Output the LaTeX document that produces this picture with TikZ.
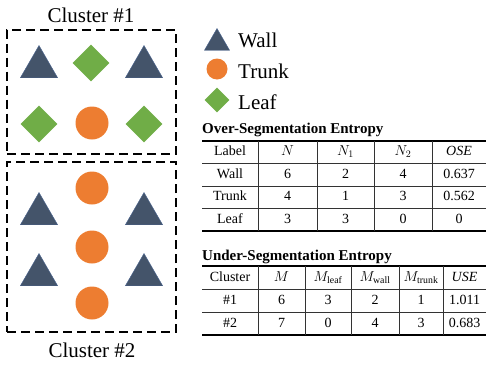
\documentclass[tikz,border=0pt]{standalone}
\usepackage{fontspec}
\setmainfont{Liberation Serif}
\usetikzlibrary{shapes.geometric}
\definecolor{wallblue}{HTML}{44546A}
\definecolor{walledge}{HTML}{4A6490}
\definecolor{trunkorange}{HTML}{ED7D31}
\definecolor{leafgreen}{HTML}{70AD47}
\begin{document}
\begin{tikzpicture}[x=1pt, y=-1pt,
    wall/.style={regular polygon, regular polygon sides=3, fill=wallblue, draw=walledge, line width=0.4pt, minimum size=43pt, inner sep=0pt},
    trunk/.style={circle, fill=trunkorange, minimum size=33pt, inner sep=0pt},
    leaf/.style={diamond, fill=leafgreen, minimum size=37pt, inner sep=0pt},
    clusterbox/.style={draw, line width=2pt, dash pattern=on 9pt off 5pt},
    clustername/.style={font=\fontsize{21}{24}\selectfont, inner sep=0pt},
    legendtext/.style={font=\fontsize{21}{24}\selectfont, anchor=base west, inner sep=0pt},
    tabtitle/.style={font=\fontsize{15}{17}\selectfont\bfseries, anchor=base west, inner sep=0pt},
    cell/.style={font=\fontsize{14}{16}\selectfont, inner sep=0pt, text height=10pt, text depth=3pt},
    thickrule/.style={line width=1.5pt},
    thinrule/.style={line width=0.8pt, black!80}]
  \useasboundingbox (0,0) rectangle (489,364);

  % cluster 1
  \node[clustername] (c1name) at (91,15) {Cluster \#1};
  \node[clusterbox, minimum width=169pt, minimum height=124pt, inner sep=0pt] (c1) at (91.5,91.5) {};
  \node[wall] (c1w1) at (39,67) {};
  \node[leaf] (c1l1) at (91,63) {};
  \node[wall] (c1w2) at (144,67) {};
  \node[leaf] (c1l2) at (39,124) {};
  \node[trunk] (c1t1) at (92,123) {};
  \node[leaf] (c1l3) at (144,124) {};

  % cluster 2
  \node[clusterbox, minimum width=169pt, minimum height=170pt, inner sep=0pt] (c2) at (91.5,247) {};
  \node[trunk] (c2t1) at (92,188) {};
  \node[wall] (c2w1) at (39,214) {};
  \node[wall] (c2w2) at (144,214) {};
  \node[trunk] (c2t2) at (92,247) {};
  \node[wall] (c2w3) at (39,275) {};
  \node[wall] (c2w4) at (144,275) {};
  \node[trunk] (c2t3) at (92,303) {};
  \node[clustername] (c2name) at (92,350) {Cluster \#2};

  % legend
  \node[wall, minimum size=29pt] (lw) at (217,43) {};
  \node[trunk, minimum size=21pt] (lt) at (217,69) {};
  \node[leaf, minimum size=25pt] (ll) at (217,100) {};
  \node[legendtext] (lwtext) at (238,47) {Wall};
  \node[legendtext] (lttext) at (238,78) {Trunk};
  \node[legendtext] (lltext) at (238,109) {Leaf};

  % over-segmentation entropy
  \node[tabtitle] (osetitle) at (202,133) {Over-Segmentation Entropy};
  \draw[thickrule] (202,141) -- (486,141);
  \foreach \ry in {163.5,186,208.5} \draw[thinrule] (202,\ry) -- (486,\ry);
  \draw[thickrule] (202,231) -- (486,231);
  \foreach \vx in {258,317,374,432} \draw[thinrule] (\vx,141) -- (\vx,231);
  \foreach \cx/\txt [count=\i] in {230/Label, 287.5/$N$, 345.5/$N_1$, 403/$N_2$, 459/$\mathit{OSE}$}
    \node[cell] (ose-0-\i) at (\cx,152) {\txt};
  \foreach \cx/\txt [count=\i] in {230/Wall, 287.5/6, 345.5/2, 403/4, 459/0.637}
    \node[cell] (ose-1-\i) at (\cx,175) {\txt};
  \foreach \cx/\txt [count=\i] in {230/Trunk, 287.5/4, 345.5/1, 403/3, 459/0.562}
    \node[cell] (ose-2-\i) at (\cx,197) {\txt};
  \foreach \cx/\txt [count=\i] in {230/Leaf, 287.5/3, 345.5/3, 403/0, 459/0}
    \node[cell] (ose-3-\i) at (\cx,220) {\txt};

  % under-segmentation entropy
  \node[tabtitle] (usetitle) at (202,260) {Under-Segmentation Entropy};
  \draw[thickrule] (202,266) -- (486,266);
  \foreach \ry in {289,312} \draw[thinrule] (202,\ry) -- (486,\ry);
  \draw[thickrule] (202,335) -- (486,335);
  \foreach \vx in {258,305,351,399,443} \draw[thinrule] (\vx,266) -- (\vx,335);
  \foreach \cx/\txt [count=\i] in {230/Cluster, 281.5/$M$, 328/$M_{\mathrm{leaf}}$, 375/$M_{\mathrm{wall}}$, 421/$M_{\mathrm{trunk}}$, 464.5/$\mathit{USE}$}
    \node[cell] (use-0-\i) at (\cx,277.5) {\txt};
  \foreach \cx/\txt [count=\i] in {230/\#1, 281.5/6, 328/3, 375/2, 421/1, 464.5/1.011}
    \node[cell] (use-1-\i) at (\cx,300.5) {\txt};
  \foreach \cx/\txt [count=\i] in {230/\#2, 281.5/7, 328/0, 375/4, 421/3, 464.5/0.683}
    \node[cell] (use-2-\i) at (\cx,323.5) {\txt};
\end{tikzpicture}
\end{document}
